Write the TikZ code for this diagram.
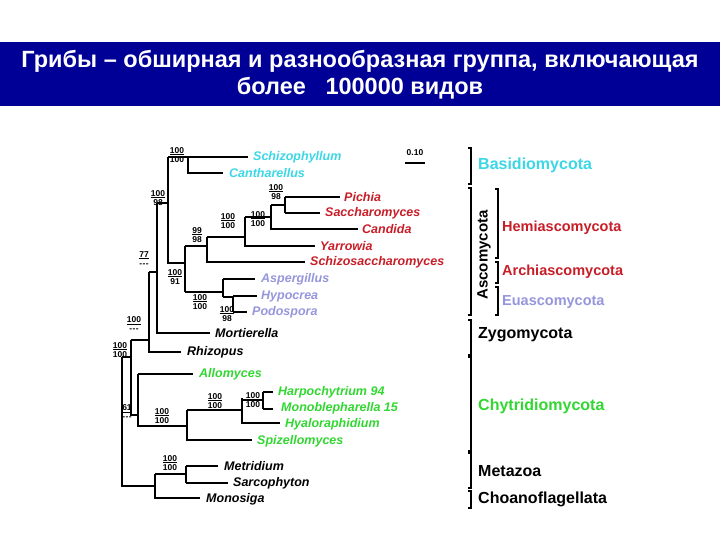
\documentclass[tikz,border=0pt]{standalone}
\usepackage{fontspec}
\setmainfont{Liberation Sans}
\definecolor{navy}{RGB}{0,0,150}
\definecolor{cy}{RGB}{60,215,230}
\definecolor{rd}{RGB}{200,30,40}
\definecolor{lav}{RGB}{150,150,220}
\definecolor{gr}{RGB}{50,215,50}
\newcommand\bsup[4]{\node[bs] at (#1,#2) {\underline{#3}\\[0.5pt]#4};}
\newcommand\ddd{-\kern0.5pt-\kern0.5pt-}
\tikzset{
 br/.style={line width=1.2pt},
 bs/.style={align=center,inner sep=0pt,font=\fontsize{8.5}{9}\selectfont\bfseries},
 tx/.style={anchor=west,inner sep=0pt,font=\fontsize{12.5}{13}\selectfont\bfseries\itshape},
 grp/.style={anchor=west,inner sep=0pt,font=\fontsize{16}{17}\selectfont\bfseries},
 sgrp/.style={anchor=west,inner sep=0pt,font=\fontsize{14.5}{15}\selectfont\bfseries},
 brk/.style={line width=1.2pt},
}
\begin{document}
\begin{tikzpicture}[x=1pt,y=-1pt]
\useasboundingbox (0,0) rectangle (720,540);
\fill[white] (0,0) rectangle (720,540);
\fill[navy] (0,42) rectangle (720,106);
\node[text=white,align=center,font=\fontsize{23.5}{27}\selectfont\bfseries] (title) at (360,75)
 {Грибы – обширная и разнообразная группа, включающая\\более~~ 100000 видов};
% tree
\draw[br] (168,157) -- (248,157) (188,157) -- (188,173) -- (223,173);
\draw[br] (168,157) -- (168,263) -- (185,263);
\draw[br] (185,246) -- (185,292);
\draw[br] (185,246) -- (207,246) (207,237) -- (207,262) -- (305,262);
\draw[br] (207,237) -- (245,237) (245,217) -- (245,246) -- (315,246);
\draw[br] (245,217) -- (271,217) (271,205) -- (271,229) -- (358,229);
\draw[br] (271,205) -- (285,205) (285,197) -- (285,213);
\draw[br] (285,197) -- (340,197) (285,213) -- (320,213);
\draw[br] (185,292) -- (223,292) (223,279) -- (223,297);
\draw[br] (223,279) -- (255,279) (223,297) -- (233,297) (233,296) -- (233,312);
\draw[br] (233,296) -- (257,296) (233,312) -- (247,312);
\draw[br] (157,203) -- (168,203) (157,203) -- (157,333) -- (210,333);
\draw[br] (149,272) -- (157,272) (149,272) -- (149,352) -- (181,352);
\draw[br] (131,340) -- (149,340) (131,340) -- (131,415) -- (138,415);
\draw[br] (138,374) -- (193,374) (138,374) -- (138,426) -- (187,426);
\draw[br] (187,410) -- (187,440) -- (252,440);
\draw[br] (187,410) -- (242,410) (242,398) -- (242,423) -- (280,423);
\draw[br] (242,400) -- (263,400) (263,392) -- (263,409);
\draw[br] (263,392) -- (273,392) (263,409) -- (273,409);
\draw[br] (122,357) -- (131,357) (122,357) -- (122,486) -- (155,486);
\draw[br] (155,474) -- (155,498) -- (200,498);
\draw[br] (155,474) -- (186,474) (186,466) -- (186,483);
\draw[br] (186,466) -- (218,466) (186,483) -- (228,483);
% scale bar
\node[bs] (sc) at (415,153) {0.10};
\draw[br] (405,163) -- (425,163);
% taxa
\node[tx,text=cy] (t1) at (253,157) {Schizophyllum};
\node[tx,text=cy] (t2) at (229,173) {Cantharellus};
\node[tx,text=rd] (t3) at (344,197) {Pichia};
\node[tx,text=rd] (t4) at (325,213) {Saccharomyces};
\node[tx,text=rd] (t5) at (362,229) {Candida};
\node[tx,text=rd] (t6) at (320,246) {Yarrowia};
\node[tx,text=rd] (t7) at (310,262) {Schizosaccharomyces};
\node[tx,text=lav] (t8) at (261,279) {Aspergillus};
\node[tx,text=lav] (t9) at (261,296) {Hypocrea};
\node[tx,text=lav] (t10) at (252,312) {Podospora};
\node[tx] (t11) at (215,333) {Mortierella};
\node[tx] (t12) at (187,352) {Rhizopus};
\node[tx,text=gr] (t13) at (199,374) {Allomyces};
\node[tx,text=gr] (t14) at (278,392) {Harpochytrium 94};
\node[tx,text=gr] (t15) at (281,408) {Monoblepharella 15};
\node[tx,text=gr] (t16) at (285,424) {Hyaloraphidium};
\node[tx,text=gr] (t17) at (257,441) {Spizellomyces};
\node[tx] (t18) at (224,466) {Metridium};
\node[tx] (t19) at (233,483) {Sarcophyton};
\node[tx] (t20) at (206,499) {Monosiga};
% supports
\bsup{177}{155}{100}{100}
\bsup{158}{198}{100}{98}
\bsup{276}{192}{100}{98}
\bsup{258}{219}{100}{100}
\bsup{228}{221}{100}{100}
\bsup{197}{235}{99}{98}
\bsup{175}{277}{100}{91}
\bsup{200}{302}{100}{100}
\bsup{227}{314}{100}{98}
\bsup{144}{259}{77}{\ddd}
\bsup{134}{324}{100}{\ddd}
\bsup{120}{350}{100}{100}
\bsup{127}{412}{61}{\ddd}
\bsup{162}{416}{100}{100}
\bsup{215}{401}{100}{100}
\bsup{253}{400}{100}{100}
\bsup{170}{463}{100}{100}
% groups
\draw[brk] (468,148) -- (471,148) -- (471,184) -- (468,184);
\draw[brk] (468,188) -- (471,188) -- (471,315) -- (468,315);
\draw[brk] (468,320) -- (471,320) -- (471,355) -- (468,355);
\draw[brk] (468,357) -- (471,357) -- (471,451) -- (468,451);
\draw[brk] (468,453) -- (471,453) -- (471,488) -- (468,488);
\draw[brk] (468,491) -- (471,491) -- (471,508) -- (468,508);
\draw[brk] (495,189) -- (498,189) -- (498,258) -- (495,258);
\draw[brk] (495,262) -- (498,262) -- (498,283) -- (495,283);
\draw[brk] (495,287) -- (498,287) -- (498,315) -- (495,315);
\node[rotate=90,inner sep=0pt,font=\fontsize{15}{16}\selectfont\bfseries] (asc) at (484,255) {Ascomycota};
\node[grp,text=cy] (g1) at (478,165) {Basidiomycota};
\node[sgrp,text=rd] (g2) at (502,228) {Hemiascomycota};
\node[sgrp,text=rd] (g3) at (502,272) {Archiascomycota};
\node[sgrp,text=lav] (g4) at (502,302) {Euascomycota};
\node[grp] (g5) at (478,335) {Zygomycota};
\node[grp,text=gr] (g6) at (478,406) {Chytridiomycota};
\node[grp] (g7) at (478,471) {Metazoa};
\node[grp] (g8) at (478,499) {Choanoflagellata};
\end{tikzpicture}
\end{document}
